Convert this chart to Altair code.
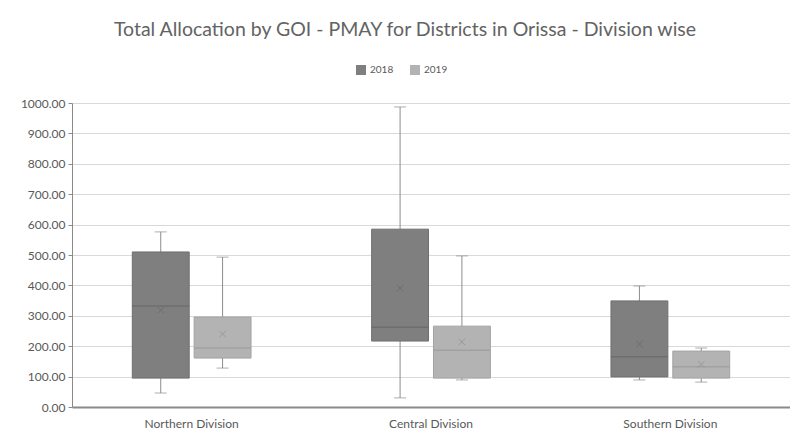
import altair as alt
import pandas as pd

divisions = ["Northern Division", "Central Division", "Southern Division"]
years = ["2018", "2019"]
y_ticks = [0, 100, 200, 300, 400, 500, 600, 700, 800, 900, 1000]
# per division, per year: [min, q1, median, q3, max, mean]
stats = {
    ("Northern Division", "2018"): [46, 95, 332, 510, 576, 318],
    ("Northern Division", "2019"): [128, 161, 194, 296, 493, 240],
    ("Central Division", "2018"): [30, 217, 262, 585, 987, 391],
    ("Central Division", "2019"): [89, 95, 187, 266, 497, 214],
    ("Southern Division", "2018"): [89, 99, 165, 349, 398, 207],
    ("Southern Division", "2019"): [82, 95, 132, 184, 194, 140],
}

rows = []
for d in divisions:
    for y in years:
        mn, q1, md, q3, mx, mean = stats[(d, y)]
        rows.append(dict(division=d, year=y, min=mn, q1=q1, median=md, q3=q3, max=mx, mean=mean))
df = pd.DataFrame(rows)

fill_colors = ["#7f7f7f", "#b3b3b3"]
line_colors = ["#6f6f6f", "#a3a3a3"]

x = alt.X("division:N", sort=divisions, title=None,
          scale=alt.Scale(paddingInner=0, paddingOuter=0),
          axis=alt.Axis(labelAngle=0, labelFont="Lato", labelFontSize=12, labelColor="#595959",
                        domainColor="#8a8a8a", domainWidth=2, ticks=False, labelPadding=11))
xo = alt.XOffset("year:N", sort=years,
                 scale=alt.Scale(paddingInner=0.08, paddingOuter=0.975))
yscale = alt.Scale(domain=[0, 1000], nice=False)
yaxis = alt.Axis(values=y_ticks, format=".2f", title=None,
                 labelFont="Lato", labelFontSize=12, labelColor="#595959", labelOverlap=False,
                 gridColor="#d9d9d9", gridWidth=1, domainColor="#8a8a8a",
                 tickColor="#8a8a8a", tickSize=4, labelPadding=3)


def Y(field):
    return alt.Y(field, scale=yscale, axis=yaxis)


color = alt.Color("year:N", sort=years,
                  scale=alt.Scale(domain=years, range=fill_colors),
                  legend=alt.Legend(title=None, orient="none", direction="horizontal",
                                    legendX=284, legendY=-38, symbolType="square",
                                    symbolSize=100, symbolStrokeWidth=0,
                                    labelFont="Lato", labelFontSize=10, labelColor="#595959",
                                    columnPadding=16))

base = alt.Chart(df)

whisker = base.mark_rule(color="#8c8c8c", strokeWidth=1).encode(
    x=x, xOffset=xo, y=Y("min:Q"), y2="max:Q")
cap_lo = base.mark_tick(color="#8c8c8c", size=12, thickness=1).encode(
    x=x, xOffset=xo, y=Y("min:Q"))
cap_hi = base.mark_tick(color="#8c8c8c", size=12, thickness=1).encode(
    x=x, xOffset=xo, y=Y("max:Q"))
box = base.mark_bar(strokeWidth=1).encode(
    x=x, xOffset=xo, y=Y("q1:Q"), y2="q3:Q", color=color,
    stroke=alt.Stroke("year:N", sort=years, scale=alt.Scale(domain=years, range=line_colors), legend=None))
median = base.mark_tick(size=57, thickness=1.5).encode(
    x=x, xOffset=xo, y=Y("median:Q"),
    color=alt.Color("year:N", sort=years, scale=alt.Scale(domain=years, range=["#666666", "#9a9a9a"]), legend=None))
mean = base.mark_point(shape="M -1 -1 L 1 1 M -1 1 L 1 -1", filled=False, size=40, strokeWidth=1).encode(
    x=x, xOffset=xo, y=Y("mean:Q"),
    color=alt.Color("year:N", sort=years, scale=alt.Scale(domain=years, range=["#666666", "#8f8f8f"]), legend=None))

chart = alt.layer(whisker, cap_lo, cap_hi, box, median, mean).resolve_scale(
    color="independent", stroke="independent"
).properties(
    width=718, height=304,
    autosize=alt.AutoSizeParams(type="none"),
    padding={"left": 72, "top": 103, "right": 0, "bottom": 30},
    title=alt.Title("Total Allocation by GOI - PMAY for Districts in Orissa - Division wise",
                    font="Lato", fontSize=19.5, fontWeight="normal", color="#636363",
                    anchor="middle", dx=-26, offset=25),
).configure_view(stroke=None).configure(background="white")

chart.save("out.html", embed_options={"renderer": "svg", "actions": False})
